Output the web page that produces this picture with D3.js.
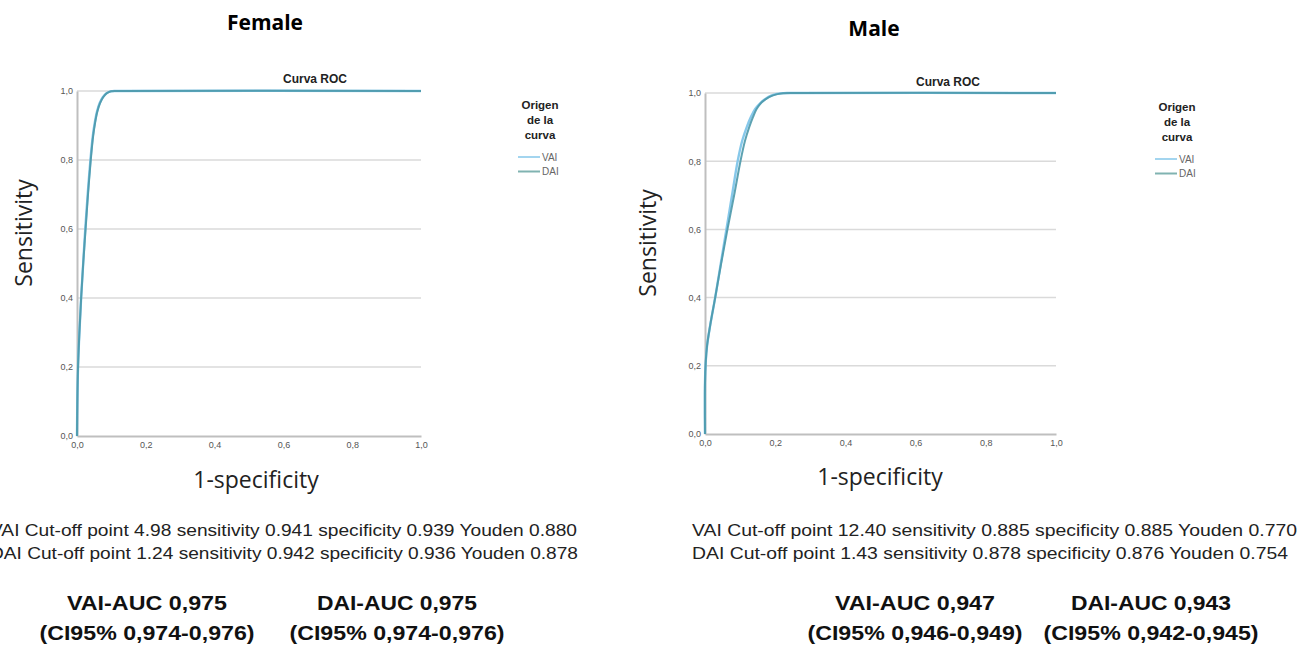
<!DOCTYPE html>
<html>
<head>
<meta charset="utf-8">
<script src="https://cdn.jsdelivr.net/npm/d3@7"></script>
<style>
  body { margin: 0; background: #fff; }
  svg { display: block; }
  .tick text { font-family: "Liberation Sans", Arial, sans-serif; font-size: 9px; fill: #555; }
</style>
</head>
<body>
<script>
// ROC curve points: [1 - specificity, sensitivity]
var femaleVAI = [[0,0],[0.001,0.1],[0.003,0.2],[0.007,0.3],[0.012,0.4],[0.018,0.5],[0.024,0.6],[0.031,0.7],[0.039,0.8],[0.046,0.87],[0.052,0.91],[0.058,0.94],[0.066,0.965],[0.075,0.982],[0.085,0.993],[0.097,0.999],[0.12,1],[1,1]];
var femaleDAI = [[0,0],[0.001,0.1],[0.003,0.2],[0.007,0.3],[0.012,0.4],[0.018,0.5],[0.025,0.6],[0.032,0.7],[0.040,0.8],[0.047,0.87],[0.053,0.91],[0.059,0.94],[0.067,0.965],[0.076,0.982],[0.086,0.993],[0.099,0.999],[0.12,1],[1,1]];
var maleVAI = [[0,0],[0,0.15],[0.002,0.21],[0.006,0.26],[0.015,0.32],[0.029,0.4],[0.045,0.5],[0.061,0.6],[0.077,0.7],[0.093,0.8],[0.106,0.86],[0.119,0.9],[0.131,0.93],[0.143,0.953],[0.157,0.97],[0.171,0.982],[0.19,0.993],[0.214,0.999],[0.25,1],[1,1]];
var maleDAI = [[0,0],[0,0.15],[0.002,0.21],[0.006,0.26],[0.015,0.32],[0.029,0.4],[0.046,0.5],[0.064,0.6],[0.083,0.7],[0.101,0.8],[0.114,0.86],[0.126,0.9],[0.137,0.93],[0.147,0.953],[0.159,0.97],[0.173,0.982],[0.194,0.993],[0.222,0.999],[0.26,1],[1,1]];

var tickValues = [0, 0.2, 0.4, 0.6, 0.8, 1.0];
var seriesNames = ["VAI", "DAI"];
var curveColors = ["#86c8ea", "#4b98aa"];
var legendColors = ["#a3d5ef", "#80b3b1"];

var femaleStats = [
    "VAI Cut-off point 4.98 sensitivity 0.941 specificity 0.939 Youden 0.880",
    "DAI Cut-off point 1.24 sensitivity 0.942 specificity 0.936 Youden 0.878"
];
var maleStats = [
    "VAI Cut-off point 12.40 sensitivity 0.885 specificity 0.885 Youden 0.770",
    "DAI Cut-off point 1.43 sensitivity 0.878 specificity 0.876 Youden 0.754"
];
var femaleAUC = [["VAI-AUC 0,975", "(CI95% 0,974-0,976)"], ["DAI-AUC 0,975", "(CI95% 0,974-0,976)"]];
var maleAUC = [["VAI-AUC 0,947", "(CI95% 0,946-0,949)"], ["DAI-AUC 0,943", "(CI95% 0,942-0,945)"]];

var svg = d3.select("body").append("svg")
    .attr("width", 1309)
    .attr("height", 650);

var commaFmt = function(d){ return d3.format(".1f")(d).replace(".", ","); };

function drawPanel(p){
    var x = d3.scaleLinear().domain([0, 1]).range([p.left, p.right]);
    var y = d3.scaleLinear().domain([0, 1]).range([p.bottom, p.top]);

    //panel title
    svg.append("text")
        .attr("x", p.titleX).attr("y", p.titleY)
        .attr("text-anchor", "middle")
        .style("font-family", "'Open Sans', 'DejaVu Sans', sans-serif")
        .style("font-weight", "bold")
        .style("font-size", "21px")
        .text(p.title);

    //horizontal grid lines
    svg.selectAll(null)
        .data(tickValues.slice(1))
        .enter().append("line")
        .attr("x1", x(0)).attr("x2", x(1))
        .attr("y1", function(d){ return y(d); })
        .attr("y2", function(d){ return y(d); })
        .attr("stroke", "#dadada")
        .attr("stroke-width", 1.5);

    //axes
    var xAxis = svg.append("g")
        .attr("transform", "translate(0," + y(0) + ")")
        .call(d3.axisBottom(x).tickValues(tickValues).tickFormat(commaFmt).tickSize(0).tickPadding(6));
    var yAxis = svg.append("g")
        .attr("transform", "translate(" + x(0) + ",0)")
        .call(d3.axisLeft(y).tickValues(tickValues).tickFormat(commaFmt).tickSize(0).tickPadding(4));
    [xAxis, yAxis].forEach(function(a){
        a.select(".domain").attr("stroke", "#bfbfbf").attr("stroke-width", 2);
    });

    //chart title inside plot
    svg.append("text")
        .attr("x", p.rocX).attr("y", p.rocY)
        .attr("text-anchor", "middle")
        .style("font-family", "'Liberation Sans', Arial, sans-serif")
        .style("font-weight", "bold")
        .style("font-size", "12px")
        .style("fill", "#222")
        .text("Curva ROC");

    //roc curves, VAI underneath, DAI on top
    var line = d3.line()
        .x(function(d){ return x(d[0]); })
        .y(function(d){ return y(d[1]); })
        .curve(d3.curveCatmullRom.alpha(0.5));

    [p.vai, p.dai].forEach(function(data, i){
        svg.append("path")
            .datum(data)
            .attr("d", line)
            .attr("fill", "none")
            .attr("stroke", curveColors[i])
            .attr("stroke-width", i == 0 ? 2.4 : 2)
            .attr("stroke-opacity", i == 0 ? 1 : 0.9);
    });

    //axis titles
    svg.append("text")
        .attr("transform", "translate(" + p.ylabX + "," + p.ylabY + ") rotate(-90)")
        .attr("text-anchor", "middle")
        .style("font-family", "'Open Sans', sans-serif")
        .style("font-size", "23px")
        .style("fill", "#222")
        .text("Sensitivity");
    svg.append("text")
        .attr("x", p.xlabX).attr("y", p.xlabY)
        .attr("text-anchor", "middle")
        .style("font-family", "'Open Sans', sans-serif")
        .style("font-size", "23px")
        .style("fill", "#222")
        .text("1-specificity");

    //legend
    var legend = svg.append("g").attr("transform", "translate(" + p.legX + "," + p.legY + ")");
    ["Origen", "de la", "curva"].forEach(function(t, i){
        legend.append("text")
            .attr("x", 0).attr("y", i * 15)
            .attr("text-anchor", "middle")
            .style("font-family", "'Liberation Sans', Arial, sans-serif")
            .style("font-weight", "bold")
            .style("font-size", "11.5px")
            .style("fill", "#222")
            .text(t);
    });
    seriesNames.forEach(function(s, i){
        var ly = 48 + i * 14.5;
        legend.append("line")
            .attr("x1", -22).attr("x2", 0)
            .attr("y1", ly).attr("y2", ly)
            .attr("stroke", legendColors[i])
            .attr("stroke-width", 2);
        legend.append("text")
            .attr("x", 2).attr("y", ly + 3.5)
            .style("font-family", "'Liberation Sans', Arial, sans-serif")
            .style("font-size", "10px")
            .style("fill", "#666")
            .text(s);
    });

    //statistics text (left panel is clipped at the page edge as in the reference)
    p.stats.forEach(function(t, i){
        svg.append("text")
            .attr("x", p.statX).attr("y", 536 + i * 23)
            .attr("textLength", p.statW[i])
            .attr("lengthAdjust", "spacingAndGlyphs")
            .style("font-family", "'Liberation Sans Narrow', 'Liberation Sans', Arial, sans-serif")
            .style("font-size", "17px")
            .style("fill", "#222")
            .text(t);
    });

    p.auc.forEach(function(pair, j){
        pair.forEach(function(t, i){
            svg.append("text")
                .attr("x", p.aucX[j]).attr("y", 610 + i * 30)
                .attr("text-anchor", "middle")
                .attr("textLength", i == 0 ? 160 : 215)
                .attr("lengthAdjust", "spacingAndGlyphs")
                .style("font-family", "'Liberation Sans Narrow', 'Liberation Sans', Arial, sans-serif")
                .style("font-weight", "bold")
                .style("font-size", "20px")
                .style("fill", "#111")
                .text(t);
        });
    });
}

drawPanel({
    title: "Female", titleX: 265, titleY: 30,
    left: 77, right: 421, top: 91, bottom: 436,
    rocX: 315, rocY: 83,
    vai: femaleVAI, dai: femaleDAI,
    ylabX: 32, ylabY: 233, xlabX: 256, xlabY: 488,
    legX: 540, legY: 109,
    stats: femaleStats, statX: -10, statW: [587, 588],
    auc: femaleAUC, aucX: [147, 397]
});

drawPanel({
    title: "Male", titleX: 874, titleY: 36,
    left: 705, right: 1056, top: 93, bottom: 434,
    rocX: 948, rocY: 86,
    vai: maleVAI, dai: maleDAI,
    ylabX: 656, ylabY: 243, xlabX: 880, xlabY: 485,
    legX: 1177, legY: 111,
    stats: maleStats, statX: 692, statW: [605, 596],
    auc: maleAUC, aucX: [915, 1151]
});
</script>
</body>
</html>
